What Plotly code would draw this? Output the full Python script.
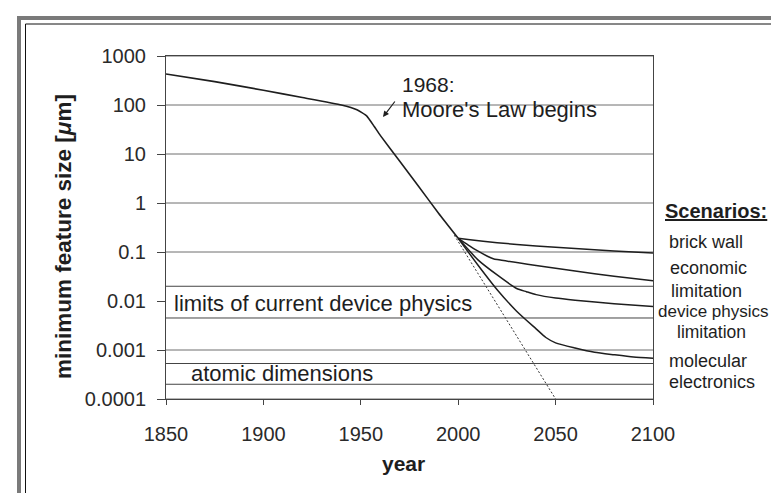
import plotly.graph_objects as go

# ---------------- data ----------------
hist_years = [1850, 1875, 1900, 1920, 1940, 1948, 1953, 1957, 1960, 1970, 1980, 1990, 2000]
hist_size = [430, 300, 200, 142, 100, 80, 60, 36, 24, 7.1, 2.1, 0.61, 0.19]

brick_years = [2000, 2005, 2020, 2040, 2060, 2080, 2100]
brick_size = [0.19, 0.18, 0.155, 0.132, 0.118, 0.105, 0.095]

econ_years = [2000, 2005, 2010, 2015, 2018, 2020, 2040, 2060, 2080, 2100]
econ_size = [0.19, 0.14, 0.105, 0.082, 0.073, 0.070, 0.053, 0.041, 0.032, 0.026]

device_years = [2000, 2010, 2020, 2030, 2035, 2040, 2050, 2060, 2080, 2100]
device_size = [0.19, 0.07, 0.034, 0.018, 0.0155, 0.0135, 0.0115, 0.0104, 0.0088, 0.0077]

mol_years = [2000, 2010, 2020, 2030, 2040, 2045, 2050, 2060, 2070, 2080, 2090, 2100]
mol_size = [0.19, 0.055, 0.017, 0.0062, 0.0027, 0.0018, 0.0014, 0.0011, 0.0009, 0.0008, 0.00072, 0.00068]

moore_years = [1998, 2050]
moore_size = [0.22, 0.0001]

grid_levels = [1000, 100, 10, 1, 0.1, 0.001, 0.0001]
device_band = [0.02, 0.0045]
atomic_band = [0.00053, 0.0002]

y_tickvals = [1000, 100, 10, 1, 0.1, 0.01, 0.001, 0.0001]
y_ticktext = ["1000", "100", "10", "1", "0.1", "0.01", "0.001", "0.0001"]
x_tickvals = [1850, 1900, 1950, 2000, 2050, 2100]

scenario_labels = ["brick wall", "economic", "limitation", "device physics", "limitation",
                   "molecular", "electronics"]

# ---------------- layout geometry ----------------
W, H = 779, 493
L, R, T, B = 158, 645, 48, 391


def px(x):
    return (x - L) / (R - L)


def py(y):
    return (B - y) / (B - T)


FONT = "Liberation Sans, Arial, sans-serif"
INK = "#1e1e1e"

fig = go.Figure()


def hlines(levels):
    xs, ys = [], []
    for v in levels:
        xs += [1850, 2100, None]
        ys += [v, v, None]
    return xs, ys


gx, gy = hlines(grid_levels)
fig.add_trace(go.Scatter(x=gx, y=gy, mode="lines", line=dict(color="#6e6e6e", width=1),
                         hoverinfo="skip", showlegend=False))
bx, by = hlines(device_band + atomic_band)
fig.add_trace(go.Scatter(x=bx, y=by, mode="lines", line=dict(color="#444", width=1),
                         hoverinfo="skip", showlegend=False))

fig.add_trace(go.Scatter(x=moore_years, y=moore_size, mode="lines",
                         line=dict(color="#333", width=1, dash="2px,2px"), showlegend=False))

for xs, ys in [(brick_years, brick_size), (econ_years, econ_size),
               (device_years, device_size), (mol_years, mol_size)]:
    fig.add_trace(go.Scatter(x=xs, y=ys, mode="lines", line=dict(color=INK, width=1.5,
                             shape="spline", smoothing=0.6), showlegend=False))

fig.add_trace(go.Scatter(x=hist_years, y=hist_size, mode="lines",
                         line=dict(color=INK, width=1.6, shape="spline", smoothing=0.4),
                         showlegend=False))

fig.update_xaxes(range=[1850, 2100], showgrid=False, zeroline=False,
                 showline=True, linecolor="#444", linewidth=1, mirror=True,
                 ticks="outside", ticklen=5, tickcolor="#444",
                 tickvals=x_tickvals, ticklabelstandoff=12,
                 tickfont=dict(family=FONT, size=20, color="#2a2a2a"))
fig.update_yaxes(type="log", range=[-4, 3], showgrid=False, zeroline=False,
                 showline=True, linecolor="#444", linewidth=1, mirror=True,
                 ticks="outside", ticklen=8, tickcolor="#444",
                 tickvals=y_tickvals, ticktext=y_ticktext, ticklabelstandoff=7,
                 tickfont=dict(family=FONT, size=20, color="#2a2a2a"))

ann = []


def text(s, x, y, size, xanchor="left"):
    ann.append(dict(text=s, x=px(x), y=py(y), xref="paper", yref="paper",
                    xanchor=xanchor, yanchor="middle", showarrow=False,
                    font=dict(family=FONT, size=size, color=INK)))


text("1968:", 392, 76, 21)
text("Moore's Law begins", 392, 101, 22)
text("limits of current device physics", 164, 295, 22)
text("atomic dimensions", 181, 365, 22)
text("<b><u>Scenarios:</u></b>", 655, 203, 20)
text(scenario_labels[0], 659, 234, 18)
text(scenario_labels[1], 660, 260, 18)
text(scenario_labels[2], 661, 283, 18)
text(scenario_labels[3], 648, 303, 17)
text(scenario_labels[4], 703, 324, 17.5, xanchor="center")
text(scenario_labels[5], 659, 353, 18)
text(scenario_labels[6], 659, 374, 18)
text("<b>year</b>", 395, 455, 21, xanchor="center")

ann.append(dict(text="<b>minimum feature size [<i>μ</i>m]</b>", x=px(55), y=py(229),
                xref="paper", yref="paper", xanchor="center", yanchor="middle",
                textangle=-90, showarrow=False, font=dict(family=FONT, size=22.5, color=INK)))

# arrow pointing at 1968 knee
ann.append(dict(text="", x=px(375), y=py(109), xref="paper", yref="paper",
                ax=13, ay=-17, showarrow=True, arrowhead=2, arrowsize=1,
                arrowwidth=1.2, arrowcolor=INK))

shapes = [
    # outer gray frame
    dict(type="line", xref="paper", yref="paper", x0=px(9), x1=px(779), y0=py(10), y1=py(10),
         line=dict(color="#7a7a7a", width=4)),
    dict(type="line", xref="paper", yref="paper", x0=px(11), x1=px(11), y0=py(8), y1=py(493),
         line=dict(color="#7a7a7a", width=4)),
    dict(type="line", xref="paper", yref="paper", x0=px(9), x1=px(779), y0=py(491), y1=py(491),
         line=dict(color="#7a7a7a", width=2)),
    # inner black frame
    dict(type="line", xref="paper", yref="paper", x0=px(17.5), x1=px(779), y0=py(16), y1=py(16),
         line=dict(color="#111", width=1)),
    dict(type="line", xref="paper", yref="paper", x0=px(17.5), x1=px(17.5), y0=py(16), y1=py(490),
         line=dict(color="#111", width=1)),
]

fig.update_layout(width=W, height=H, margin=dict(l=L, r=W - R, t=T, b=H - B),
                  paper_bgcolor="white", plot_bgcolor="white",
                  annotations=ann, shapes=shapes, showlegend=False,
                  font=dict(family=FONT, color=INK))

fig.write_html("out.html")
